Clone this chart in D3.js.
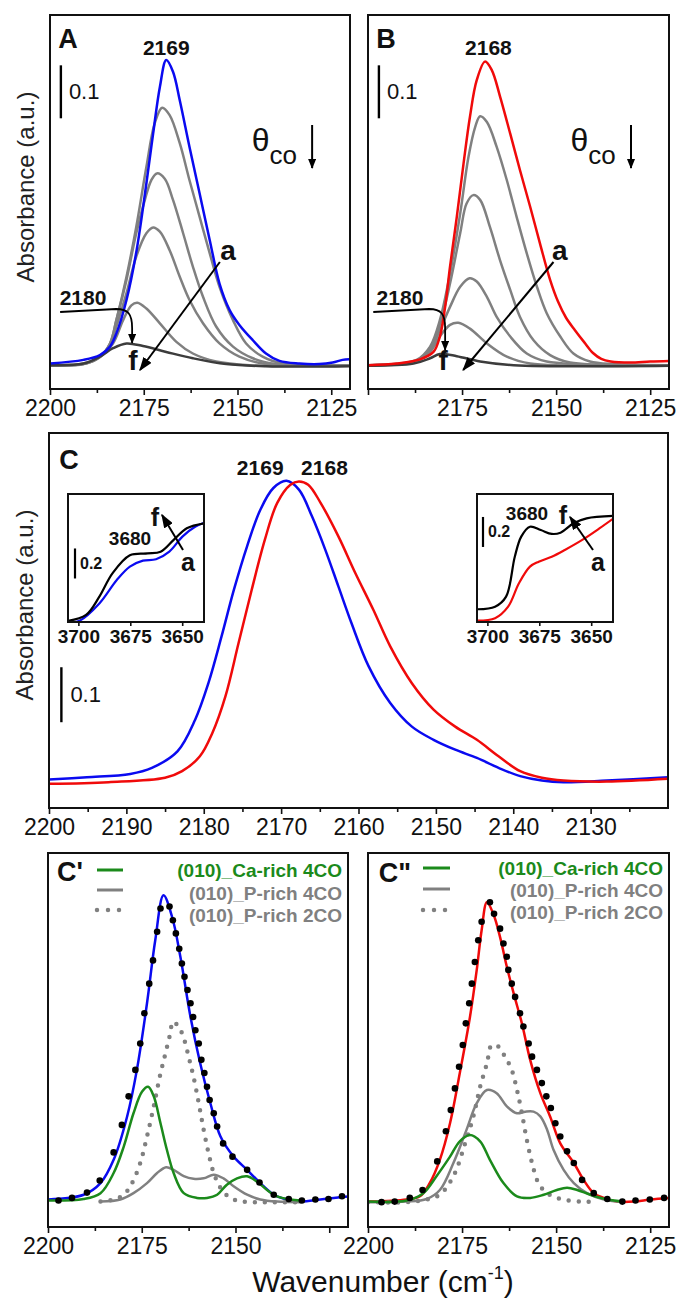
<!DOCTYPE html>
<html>
<head>
<meta charset="utf-8">
<script src="https://cdn.jsdelivr.net/npm/d3@7"></script>
<style>
  body { margin: 0; background: #fff; }
  text { font-family: "Liberation Sans", Arial, sans-serif; }
</style>
</head>
<body>
<svg id="fig" width="679" height="1299"></svg>
<script>
// ---- panel A: CO on sample 1, coverage decreasing a -> f  [wavenumber, absorbance]
const A_a = [[2200,.048],[2191.1,.055],[2186.7,.064],[2184.0,.080],[2182.3,.105],[2179.6,.168],[2176.9,.262],[2174.3,.388],[2172.5,.482],[2170.7,.570],[2169.0,.621],[2167.2,.599],[2165.4,.545],[2162.8,.457],[2160.1,.369],[2157.4,.281],[2154.8,.199],[2152.1,.149],[2149.5,.121],[2145.9,.092],[2142.4,.067],[2138.8,.053],[2133.5,.048],[2128.2,.047],[2124.6,.050],[2122.0,.055],[2120.2,.056]];
const A_b = [[2200,.045],[2191.1,.047],[2186.7,.061],[2184.0,.086],[2182.3,.130],[2179.6,.212],[2177.0,.306],[2174.3,.419],[2172.1,.501],[2170.1,.531],[2168.1,.517],[2165.4,.464],[2162.8,.394],[2160.1,.325],[2157.4,.256],[2154.8,.193],[2151.2,.130],[2147.7,.086],[2143.3,.061],[2137.9,.048],[2120.2,.045]];
const A_c = [[2200,.045],[2191.1,.047],[2186.7,.061],[2184.0,.086],[2182.3,.130],[2179.6,.206],[2177.0,.294],[2174.7,.357],[2173.0,.394],[2171.5,.407],[2169.4,.397],[2167.2,.357],[2164.5,.294],[2161.9,.231],[2159.2,.174],[2155.7,.118],[2151.2,.080],[2145.9,.058],[2139.7,.047],[2120.2,.045]];
const A_d = [[2200,.045],[2191.1,.047],[2186.7,.060],[2184.0,.083],[2182.3,.118],[2179.6,.181],[2177.0,.250],[2174.3,.294],[2172.5,.305],[2170.7,.297],[2168.1,.262],[2165.4,.212],[2162.8,.168],[2159.2,.124],[2154.8,.086],[2149.5,.061],[2142.4,.047],[2120.2,.045]];
const A_e = [[2200,.045],[2191.1,.048],[2186.7,.061],[2183.2,.086],[2180.5,.130],[2178.3,.158],[2176.7,.163],[2174.3,.152],[2170.7,.124],[2166.3,.089],[2161.9,.067],[2155.7,.052],[2146.8,.045],[2120.2,.044]];
const A_f = [[2200,.045],[2191.1,.048],[2186.7,.061],[2183.2,.077],[2179.6,.086],[2175.2,.081],[2169.0,.070],[2161.9,.058],[2153.0,.047],[2142.4,.043],[2120.2,.043]];

// ---- panel B: CO on sample 2
const B_a = [[2200,.045],[2192.4,.048],[2186.2,.056],[2182.6,.070],[2180.9,.099],[2179.5,.155],[2178.2,.231],[2176.4,.325],[2174.6,.426],[2172.9,.514],[2171.1,.583],[2168.9,.618],[2167.1,.602],[2164.9,.552],[2162.2,.482],[2159.6,.413],[2156.9,.344],[2154.3,.275],[2151.6,.206],[2149.5,.165],[2147.4,.135],[2145.0,.111],[2142.5,.088],[2140.2,.068],[2138.0,.057],[2135.5,.052],[2130.3,.050],[2125.0,.052],[2119.9,.053]];
const B_b = [[2200,.045],[2187.1,.055],[2183.5,.080],[2180.9,.130],[2178.2,.218],[2175.5,.331],[2173.3,.438],[2171.5,.495],[2170.2,.515],[2168.4,.504],[2165.8,.457],[2163.1,.394],[2160.5,.325],[2157.8,.256],[2155.1,.193],[2152.5,.143],[2148.9,.099],[2145.4,.067],[2141.0,.052],[2134.8,.047],[2119.9,.045]];
const B_c = [[2200,.045],[2187.1,.053],[2183.5,.077],[2180.9,.121],[2178.2,.199],[2175.5,.294],[2173.8,.350],[2172.0,.366],[2170.2,.357],[2167.6,.306],[2164.9,.243],[2162.2,.187],[2159.6,.136],[2156.0,.092],[2151.6,.064],[2146.3,.050],[2119.9,.045]];
const B_d = [[2200,.045],[2187.1,.053],[2183.5,.074],[2180.9,.111],[2178.2,.155],[2175.5,.193],[2173.0,.209],[2171.1,.203],[2168.4,.174],[2165.8,.136],[2162.2,.099],[2157.8,.067],[2152.5,.052],[2119.9,.045]];
const B_e = [[2200,.045],[2187.1,.052],[2183.5,.070],[2180.9,.099],[2178.2,.121],[2176.0,.125],[2172.9,.114],[2168.4,.086],[2163.1,.061],[2156.9,.048],[2119.9,.045]];
const B_f = [[2200,.044],[2187.9,.048],[2183.5,.058],[2180.9,.066],[2176.4,.062],[2170.2,.052],[2161.3,.045],[2119.9,.044]];

// ---- panel C: comparison of both samples at max coverage
const C_s1 = [[2200,.052],[2195.1,.056],[2189.5,.062],[2186.7,.073],[2183.4,.103],[2181.1,.161],[2179.4,.227],[2177.7,.312],[2176.1,.397],[2174.4,.476],[2172.7,.542],[2171.0,.582],[2169.3,.595],[2167.7,.579],[2166.0,.530],[2164.3,.470],[2162.6,.403],[2160.9,.336],[2158.7,.258],[2155.9,.191],[2153.1,.148],[2150.3,.124],[2147.5,.106],[2144.7,.091],[2141.9,.073],[2139.1,.058],[2136.3,.050],[2133.5,.047],[2127.9,.050],[2120,.056]];
const C_s2 = [[2200,.044],[2192.3,.047],[2185.0,.055],[2182.8,.067],[2180.5,.094],[2178.9,.136],[2177.2,.203],[2175.5,.300],[2173.8,.397],[2172.1,.488],[2170.5,.555],[2168.8,.588],[2167.7,.594],[2166.5,.588],[2164.9,.555],[2162.6,.494],[2160.4,.427],[2158.1,.361],[2155.9,.294],[2153.1,.227],[2150.3,.179],[2147.5,.148],[2144.7,.124],[2141.9,.094],[2139.1,.067],[2136.3,.055],[2133.5,.050],[2127.9,.048],[2120,.053]];

// OH insets (3700-3640 cm-1)
const insL_f = [[3705,.007],[3696.3,.047],[3689.9,.169],[3683.6,.324],[3675.2,.445],[3666.7,.457],[3660.4,.468],[3654.1,.547],[3647.8,.625],[3639.4,.658]];
const insL_a = [[3703,.0],[3699.4,.009],[3689.9,.124],[3681.5,.28],[3675.2,.369],[3668.9,.409],[3662.6,.418],[3656.2,.469],[3649.9,.569],[3643.6,.636],[3639.4,.662]];
const insR_f = [[3704.7,.085],[3696.3,.102],[3691.0,.169],[3686.8,.435],[3683.7,.569],[3679.5,.635],[3674.3,.613],[3669.0,.587],[3664.8,.595],[3658.5,.658],[3652.2,.691],[3639.2,.707]];
const insR_a = [[3704.7,.009],[3696.3,.025],[3690.0,.102],[3684.8,.258],[3679.5,.369],[3675.3,.402],[3669.0,.435],[3662.7,.48],[3654.3,.547],[3645.9,.625],[3639.2,.691]];

// ---- panel C': fit of sample 1
const Cp_exp = [[2200,.052],[2190.5,.061],[2186.0,.083],[2182.5,.127],[2178.9,.209],[2176.3,.297],[2173.6,.423],[2171.4,.542],[2169.2,.627],[2166.9,.586],[2164.7,.511],[2162.0,.397],[2159.4,.309],[2156.7,.234],[2154.0,.171],[2150.5,.133],[2146.9,.108],[2143.4,.083],[2139.8,.061],[2136.3,.052],[2132.7,.048],[2127.4,.052],[2123.8,.055],[2119.8,.058]];
const Cp_sum = [[2197.2,.050],[2193.6,.055],[2189.6,.065],[2186.2,.088],[2182.5,.141],[2180.3,.193],[2178.5,.247],[2176.7,.297],[2175.4,.347],[2174.3,.404],[2173.0,.460],[2172.0,.504],[2170.9,.558],[2170.0,.602],[2167.6,.606],[2166.7,.580],[2165.9,.555],[2165.0,.526],[2164.3,.498],[2163.6,.473],[2162.8,.448],[2162.0,.423],[2161.3,.397],[2160.7,.372],[2159.8,.347],[2159.1,.316],[2158.3,.291],[2157.6,.265],[2156.9,.240],[2155.8,.215],[2154.9,.190],[2153.3,.158],[2150.8,.133],[2146.9,.108],[2143.6,.084],[2139.8,.061],[2135.8,.053],[2132.3,.050],[2128.7,.052],[2125.2,.053],[2121.6,.058]];
const Cp_ca4 = [[2200,.050],[2190.5,.053],[2186.0,.064],[2182.5,.102],[2179.8,.152],[2177.2,.215],[2174.9,.256],[2173.3,.265],[2171.8,.247],[2170.0,.196],[2168.3,.146],[2166.5,.102],[2163.8,.064],[2160.3,.055],[2157.6,.055],[2154.9,.061],[2152.3,.080],[2149.6,.092],[2146.9,.096],[2144.3,.086],[2141.6,.070],[2138.9,.058],[2135.4,.052],[2132.7,.050]];
const Cp_p4 = [[2186.0,.048],[2180.7,.052],[2177.2,.064],[2173.6,.083],[2170.9,.102],[2168.5,.113],[2166.5,.108],[2163.8,.096],[2161.2,.091],[2158.5,.092],[2155.8,.099],[2153.2,.092],[2150.5,.077],[2146.9,.061],[2143.4,.052],[2138.9,.048],[2132.7,.047]];
const Cp_p2 = [[2186.0,.048],[2182.5,.052],[2179.8,.061],[2177.6,.083],[2175.4,.121],[2173.6,.171],[2171.8,.228],[2170.2,.284],[2168.9,.322],[2167.4,.366],[2166.7,.388],[2165.2,.379],[2163.8,.357],[2162.5,.322],[2161.2,.284],[2159.8,.234],[2158.5,.184],[2157.2,.140],[2155.8,.102],[2154.0,.074],[2151.4,.055],[2147.8,.048],[2141.6,.047],[2132.7,.047]];

// ---- panel C'': fit of sample 2
const Cpp_exp = [[2200,.048],[2189.8,.052],[2186.2,.058],[2183.6,.083],[2180.9,.127],[2178.2,.196],[2175.6,.291],[2172.9,.397],[2171.1,.486],[2169.8,.561],[2168.4,.614],[2166.7,.592],[2164.9,.548],[2163.1,.492],[2161.3,.442],[2159.1,.385],[2156.9,.316],[2154.2,.253],[2151.6,.209],[2148.9,.158],[2145.3,.121],[2142.7,.089],[2140.0,.064],[2137.3,.055],[2133.8,.048],[2129.3,.048],[2124.9,.052],[2120.0,.055]];
const Cpp_sum = [[2196.4,.047],[2192.9,.048],[2188.9,.055],[2185.5,.070],[2181.6,.124],[2179.3,.181],[2178.0,.221],[2176.9,.262],[2175.8,.303],[2174.8,.344],[2174.0,.385],[2173.1,.423],[2172.4,.460],[2171.6,.501],[2170.7,.542],[2169.8,.577],[2167.6,.614],[2166.5,.592],[2164.9,.564],[2164.0,.536],[2163.1,.511],[2162.7,.486],[2161.8,.460],[2160.9,.435],[2159.6,.404],[2158.7,.379],[2157.3,.347],[2156.4,.322],[2155.1,.297],[2153.8,.272],[2152.6,.247],[2151.4,.225],[2150.2,.196],[2148.9,.171],[2147.1,.143],[2145.3,.121],[2143.1,.089],[2140.0,.064],[2136.4,.053],[2132.4,.048],[2128.9,.050],[2125.1,.052],[2121.3,.055]];
const Cpp_ca4 = [[2200,.048],[2189.8,.050],[2185.3,.064],[2181.8,.096],[2178.2,.133],[2175.6,.162],[2172.9,.174],[2170.2,.162],[2167.6,.127],[2164.0,.083],[2160.4,.058],[2156.9,.055],[2153.3,.061],[2149.8,.070],[2147.1,.074],[2144.4,.070],[2140.9,.061],[2136.4,.052],[2132.0,.048]];
const Cpp_p4 = [[2200,.047],[2189.8,.048],[2184.4,.053],[2180.9,.070],[2177.3,.121],[2173.8,.184],[2171.1,.234],[2168.4,.259],[2165.8,.253],[2163.1,.228],[2160.4,.215],[2158.2,.218],[2156.0,.218],[2154.2,.209],[2152.4,.184],[2150.7,.146],[2148.0,.108],[2145.3,.083],[2141.8,.064],[2137.3,.052],[2132.0,.047]];
const Cpp_p2 = [[2200,.047],[2189.8,.047],[2184.4,.052],[2180.9,.061],[2177.3,.096],[2174.2,.158],[2172.0,.209],[2170.2,.265],[2168.4,.309],[2167.1,.344],[2165.3,.341],[2163.6,.322],[2161.8,.297],[2160.4,.259],[2159.1,.215],[2157.8,.165],[2156.4,.121],[2154.7,.083],[2152.4,.064],[2148.9,.053],[2143.6,.048],[2140.0,.048]];

const legendNames = ["(010)_Ca-rich 4CO", "(010)_P-rich 4CO", "(010)_P-rich 2CO"];

const BLUE = "#0a0af0", RED = "#f00a0a", GRAY = "#808080", DARK = "#3c3c3c", GREEN = "#1b8a1b";
const FONT = '"Liberation Sans", Arial, sans-serif';

const svg = d3.select("#fig");
const defs = svg.append("defs");

function marker(id, w, h) {
    defs.append("marker").attr("id", id)
        .attr("viewBox", "0 0 10 10").attr("refX", 9).attr("refY", 5)
        .attr("markerWidth", w).attr("markerHeight", h)
        .attr("markerUnits", "userSpaceOnUse").attr("orient", "auto")
        .attr("preserveAspectRatio", "none")
        .append("path").attr("d", "M0,0 L10,5 L0,10 Z").attr("fill", "#000");
}
marker("ahBig", 14, 10);
marker("ahSmall", 10, 8);

let clipN = 0;
function panel(cfg) {
    const x = d3.scaleLinear().domain(cfg.xd).range([cfg.l, cfg.r]);
    const y = d3.scaleLinear().domain(cfg.yd).range([cfg.b, cfg.t]);
    const g = svg.append("g");
    const cid = "clip" + (clipN++);
    defs.append("clipPath").attr("id", cid).append("rect")
        .attr("x", cfg.l).attr("y", cfg.t).attr("width", cfg.r - cfg.l).attr("height", cfg.b - cfg.t);
    const plot = g.append("g").attr("clip-path", `url(#${cid})`);

    const ts = cfg.tick || 6;
    const ax = g.append("g").attr("transform", `translate(0,${cfg.b})`)
        .call(d3.axisBottom(x).tickValues(cfg.major).tickSizeInner(ts).tickSizeOuter(0).tickPadding(cfg.pad || 5)
            .tickFormat(d => cfg.labels.includes(d) ? d : ""));
    ax.select(".domain").remove();
    ax.selectAll("line").attr("stroke", "#111").attr("stroke-width", 1.6);
    ax.selectAll("text").attr("font-family", FONT).attr("font-size", cfg.fs || 23)
        .attr("font-weight", cfg.fw || "normal").attr("fill", "#111");
    if (cfg.minor) {
        const mx = g.append("g").attr("transform", `translate(0,${cfg.b})`)
            .call(d3.axisBottom(x).tickValues(cfg.minor).tickSizeInner(ts - 2).tickSizeOuter(0).tickFormat(""));
        mx.select(".domain").remove();
        mx.selectAll("line").attr("stroke", "#111").attr("stroke-width", 1.6);
    }
    g.append("rect").attr("x", cfg.l).attr("y", cfg.t)
        .attr("width", cfg.r - cfg.l).attr("height", cfg.b - cfg.t)
        .attr("fill", "none").attr("stroke", "#111").attr("stroke-width", cfg.sw || 2);
    return {x, y, g, plot, l: cfg.l, t: cfg.t, r: cfg.r, b: cfg.b};
}

function curve(P, data, color, w) {
    const line = d3.line().x(d => P.x(d[0])).y(d => P.y(d[1])).curve(d3.curveCatmullRom.alpha(0.5));
    return P.plot.append("path").datum(data).attr("d", line)
        .attr("fill", "none").attr("stroke", color).attr("stroke-width", w || 2.5)
        .attr("stroke-linejoin", "round").attr("stroke-linecap", "round");
}

function dotted(P, data) {
    curve(P, data, GRAY, 4.5).attr("stroke-dasharray", "0,10");
}

function dots(P, data) {
    P.plot.selectAll(null).data(data).join("circle")
        .attr("cx", d => P.x(d[0])).attr("cy", d => P.y(d[1])).attr("r", 3.3).attr("fill", "#000");
}

function label(g, x, y, s, size, weight, anchor, color) {
    return g.append("text").attr("x", x).attr("y", y).text(s)
        .attr("font-size", size).attr("font-weight", weight || "normal")
        .attr("text-anchor", anchor || "middle").attr("dominant-baseline", "central")
        .attr("fill", color || "#111");
}

function arrow(g, x1, y1, x2, y2, m, w) {
    g.append("line").attr("x1", x1).attr("y1", y1).attr("x2", x2).attr("y2", y2)
        .attr("stroke", "#000").attr("stroke-width", w || 2).attr("marker-end", `url(#${m})`);
}

function scaleBar(P, w0, v0, dv, txt, size, weight, gap) {
    const x0 = P.x(w0);
    P.g.append("line").attr("x1", x0).attr("x2", x0).attr("y1", P.y(v0)).attr("y2", P.y(v0 + dv))
        .attr("stroke", "#000").attr("stroke-width", 2.4);
    label(P.g, x0 + gap, P.y(v0 + dv / 2), txt, size, weight, "start");
}

// ================= A and B =================
const majorAB = [2200, 2175, 2150, 2125], minorAB = [2187.5, 2162.5, 2137.5];

function coveragePanel(l, r, series, topColor, lab, peak, peakW, showFirst) {
    const P = panel({xd: [2200, 2120], yd: [0, 0.706], l: l, r: r, t: 15, b: 389,
        major: majorAB, minor: minorAB, labels: showFirst ? majorAB : majorAB.slice(1)});
    series.forEach((s, i) => {
        const col = i === 0 ? topColor : (i === series.length - 1 ? DARK : GRAY);
        if (i > 0) curve(P, s, col);
    });
    curve(P, series[0], topColor);
    label(P.g, l + 18, 39, lab, 27, "bold");
    label(P.g, P.x(peakW), 47, peak, 21, "bold");
    scaleBar(P, 2197.1, .511, .1, "0.1", 22, "normal", 8);
    // theta_co with arrow
    const th = P.g.append("text").attr("x", P.x(2146.2)).attr("y", 151).attr("font-size", 32).attr("fill", "#111");
    th.append("tspan").text("θ");
    th.append("tspan").attr("dy", 13).attr("font-size", 26).text("co");
    arrow(P.g, P.x(2130.1), 125, P.x(2130.1), 168, "ahSmall", 2);
    // a -> f
    label(P.g, P.x(peakW === 2169 ? 2152.5 : 2149.0), 250, "a", 28, "bold");
    arrow(P.g, P.x(peakW === 2169 ? 2154.7 : 2150.7), 262, P.x(peakW === 2169 ? 2176 : 2174.7), 370, "ahBig", 2);
    label(P.g, P.x(peakW === 2169 ? 2177.9 : 2180.0), 360, "f", 28, "bold");
    // 2180 curved arrow
    label(P.g, P.x(peakW === 2169 ? 2191.2 : 2191.5), 297, "2180", 21, "bold");
    const xs = P.x(peakW === 2169 ? 2197.3 : 2198.6), xe = P.x(peakW === 2169 ? 2178.1 : 2179.5);
    P.g.append("path")
        .attr("d", `M${xs},312 L${xe - 16},309 C${xe - 4},309 ${xe},314 ${xe},328 L${xe},${peakW === 2169 ? 343 : 350}`)
        .attr("fill", "none").attr("stroke", "#000").attr("stroke-width", 1.8).attr("marker-end", "url(#ahSmall)");
    return P;
}

coveragePanel(50, 350, [A_a, A_b, A_c, A_d, A_e, A_f], BLUE, "A", "2169", 2169, true);
coveragePanel(368, 669, [B_a, B_b, B_c, B_d, B_e, B_f], RED, "B", "2168", 2168, false);

// y title top
svg.append("text").attr("transform", "translate(25,187) rotate(-90)")
    .attr("text-anchor", "middle").attr("dominant-baseline", "central")
    .attr("font-size", 24).attr("fill", "#222").text("Absorbance (a.u.)");

// ================= C =================
const majorC = d3.range(2200, 2125, -10), minorC = d3.range(2195, 2120, -10);
const PC = panel({xd: [2200, 2120], yd: [0, 0.682], l: 49, r: 668, t: 433, b: 808,
    major: majorC, minor: minorC, labels: majorC});
curve(PC, C_s1, BLUE);
curve(PC, C_s2, RED);
label(PC.g, 69, 460, "C", 27, "bold");
label(PC.g, PC.x(2172.7), 467, "2169", 21, "bold");
label(PC.g, PC.x(2164.4), 467, "2168", 21, "bold");
scaleBar(PC, 2198.4, .156, .1, "0.1", 22, "normal", 9);
svg.append("text").attr("transform", "translate(24,605) rotate(-90)")
    .attr("text-anchor", "middle").attr("dominant-baseline", "central")
    .attr("font-size", 24).attr("fill", "#222").text("Absorbance (a.u.)");

function inset(l, f, a, colA, o) {
    const P = panel({xd: [3705, 3639.5], yd: [0, 0.853], l: l, r: l + 136, t: 494, b: 622,
        major: [3700, 3675, 3650], labels: [3700, 3675, 3650], fs: 19, fw: "bold", tick: 4, pad: 4});
    curve(P, a, colA, 2.2);
    curve(P, f, "#000", 2.2);
    label(P.g, l + o.n[0], 494 + o.n[1], "3680", 19, "bold");
    label(P.g, l + o.f[0], 494 + o.f[1], "f", 25, "bold");
    label(P.g, l + o.a[0], 494 + o.a[1], "a", 25, "bold");
    arrow(P.g, l + o.ar[0], 494 + o.ar[1], l + o.ar[2], 494 + o.ar[3], "ahBig", 2);
    P.g.append("line").attr("x1", l + o.bar[0]).attr("x2", l + o.bar[0])
        .attr("y1", P.y(o.bar[1])).attr("y2", P.y(o.bar[1] + 0.2))
        .attr("stroke", "#000").attr("stroke-width", 2.2);
    label(P.g, l + o.bar[0] + 5, P.y(o.bar[1] + 0.1), "0.2", 16, "bold", "start");
}
inset(68, insL_f, insL_a, BLUE, {n: [62, 44], f: [87, 23], a: [120, 68], ar: [115, 56, 94, 21], bar: [7, .29]});
inset(477, insR_f, insR_a, RED, {n: [50, 19], f: [86, 21], a: [121, 68], ar: [116, 56, 93, 23], bar: [6, .50]});

// ================= C' and C'' =================
function fitPanel(l, r, exp, expColor, sum, ca4, p4, p2, lab, labels, lg) {
    const P = panel({xd: [2200, 2120], yd: [0, 0.707], l: l, r: r, t: 853, b: 1227,
        major: majorAB, minor: minorAB, labels: labels});
    curve(P, exp, expColor);
    dotted(P, p2);
    curve(P, p4, GRAY);
    curve(P, ca4, GREEN);
    dots(P, sum);
    label(P.g, l + lg.lab[0], 853 + lg.lab[1], lab, 27, "bold");
    const cols = [GREEN, GRAY, GRAY];
    legendNames.forEach((nm, i) => {
        const ly = 853 + lg.ly[i];
        const ln = P.g.append("line").attr("x1", l + lg.lx[0]).attr("x2", l + lg.lx[1])
            .attr("y1", ly).attr("y2", ly).attr("stroke", cols[i]);
        if (i < 2) ln.attr("stroke-width", 3);
        else ln.attr("stroke-width", 4.5).attr("stroke-dasharray", "0,11").attr("stroke-linecap", "round");
        label(P.g, l + lg.tx, 853 + lg.ty[i], nm, 19, "bold", "end", i === 0 ? GREEN : GRAY);
    });
    return P;
}
fitPanel(48, 348, Cp_exp, BLUE, Cp_sum, Cp_ca4, Cp_p4, Cp_p2, "C'", [2200, 2175, 2150],
    {lab: [22, 19], lx: [49, 75], ly: [17, 37, 57], tx: 294, ty: [17, 40, 62]});
fitPanel(368, 669, Cpp_exp, RED, Cpp_sum, Cpp_ca4, Cpp_p4, Cpp_p2, "C\"", majorAB,
    {lab: [27, 20], lx: [55, 82], ly: [15, 36, 57], tx: 295, ty: [15, 37, 59]});

// x title
const xt = svg.append("text").attr("x", 383).attr("y", 1292).attr("text-anchor", "middle")
    .attr("font-size", 30).attr("fill", "#111");
xt.append("tspan").text("Wavenumber (cm");
xt.append("tspan").attr("font-size", 18).attr("dy", -13).text("-1");
xt.append("tspan").attr("dy", 13).text(")");
</script>
</body>
</html>
